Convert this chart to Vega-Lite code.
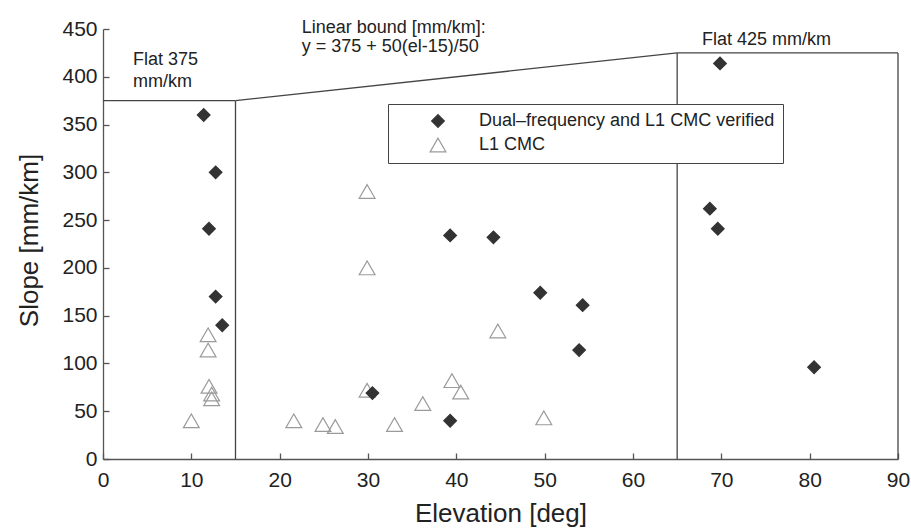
{
  "$schema": "https://vega.github.io/schema/vega-lite/v6.json",
  "width": 795,
  "height": 430,
  "autosize": {"type": "none"},
  "padding": {"left": 103, "top": 29, "right": 13, "bottom": 69},
  "background": "white",
  "config": {
    "view": {"stroke": null},
    "font": "Liberation Sans",
    "axis": {
      "grid": false,
      "domainColor": "#555",
      "domainWidth": 1.3,
      "tickColor": "#555",
      "tickWidth": 1.3,
      "tickSize": -6,
      "labelFontSize": 21,
      "labelColor": "#222",
      "labelFlush": false,
      "titleFontSize": 26,
      "titleFontWeight": "normal",
      "titleColor": "#222"
    }
  },
  "datasets": {
    "points": [
      {"el": 10.0, "slope": 40, "type": "L1 CMC"},
      {"el": 11.9, "slope": 130, "type": "L1 CMC"},
      {"el": 11.9, "slope": 114, "type": "L1 CMC"},
      {"el": 12.0, "slope": 76, "type": "L1 CMC"},
      {"el": 12.3, "slope": 68, "type": "L1 CMC"},
      {"el": 12.3, "slope": 63, "type": "L1 CMC"},
      {"el": 21.6, "slope": 40, "type": "L1 CMC"},
      {"el": 24.9, "slope": 36, "type": "L1 CMC"},
      {"el": 26.3, "slope": 34, "type": "L1 CMC"},
      {"el": 29.9, "slope": 280, "type": "L1 CMC"},
      {"el": 29.9, "slope": 200, "type": "L1 CMC"},
      {"el": 29.9, "slope": 72, "type": "L1 CMC"},
      {"el": 33.0, "slope": 36, "type": "L1 CMC"},
      {"el": 36.2, "slope": 58, "type": "L1 CMC"},
      {"el": 39.5, "slope": 82, "type": "L1 CMC"},
      {"el": 40.5, "slope": 70, "type": "L1 CMC"},
      {"el": 44.7, "slope": 134, "type": "L1 CMC"},
      {"el": 49.9, "slope": 43, "type": "L1 CMC"},
      {"el": 11.4, "slope": 360, "type": "Dual–frequency and L1 CMC verified"},
      {"el": 12.75, "slope": 300, "type": "Dual–frequency and L1 CMC verified"},
      {"el": 12.0, "slope": 241, "type": "Dual–frequency and L1 CMC verified"},
      {"el": 12.75, "slope": 170, "type": "Dual–frequency and L1 CMC verified"},
      {"el": 13.5, "slope": 140, "type": "Dual–frequency and L1 CMC verified"},
      {"el": 30.5, "slope": 69, "type": "Dual–frequency and L1 CMC verified"},
      {"el": 39.3, "slope": 40, "type": "Dual–frequency and L1 CMC verified"},
      {"el": 39.3, "slope": 234, "type": "Dual–frequency and L1 CMC verified"},
      {"el": 44.2, "slope": 232, "type": "Dual–frequency and L1 CMC verified"},
      {"el": 49.5, "slope": 174, "type": "Dual–frequency and L1 CMC verified"},
      {"el": 54.3, "slope": 161, "type": "Dual–frequency and L1 CMC verified"},
      {"el": 53.9, "slope": 114, "type": "Dual–frequency and L1 CMC verified"},
      {"el": 69.85, "slope": 414, "type": "Dual–frequency and L1 CMC verified"},
      {"el": 68.7, "slope": 262, "type": "Dual–frequency and L1 CMC verified"},
      {"el": 69.6, "slope": 241, "type": "Dual–frequency and L1 CMC verified"},
      {"el": 80.5, "slope": 96, "type": "Dual–frequency and L1 CMC verified"}
    ],
    "bounds": [
      {"el": 0, "slope": 375, "el2": 15, "slope2": 375},
      {"el": 15, "slope": 375, "el2": 15, "slope2": 0},
      {"el": 15, "slope": 375, "el2": 65, "slope2": 425},
      {"el": 65, "slope": 425, "el2": 90, "slope2": 425},
      {"el": 65, "slope": 425, "el2": 65, "slope2": 0},
      {"el": 90, "slope": 425, "el2": 90, "slope2": 0}
    ],
    "notes": [
      {"el": 3.4, "slope": 412.6, "label": "Flat 375"},
      {"el": 3.4, "slope": 389.6, "label": "mm/km"},
      {"el": 22.5, "slope": 445.5, "label": "Linear bound [mm/km]:"},
      {"el": 22.5, "slope": 426.2, "label": "y = 375 + 50(el-15)/50"},
      {"el": 67.8, "slope": 433.6, "label": "Flat 425 mm/km"}
    ]
  },
  "encoding": {
    "x": {
      "field": "el",
      "type": "quantitative",
      "title": "Elevation [deg]",
      "scale": {"domain": [0, 90], "nice": false, "zero": false},
      "axis": {
        "values": [0, 10, 20, 30, 40, 50, 60, 70, 80, 90],
        "labelPadding": 16,
        "titleY": 62,
        "titleBaseline": "alphabetic"
      }
    },
    "y": {
      "field": "slope",
      "type": "quantitative",
      "title": "Slope [mm/km]",
      "scale": {"domain": [0, 450], "nice": false, "zero": false},
      "axis": {
        "values": [0, 50, 100, 150, 200, 250, 300, 350, 400, 450],
        "labelPadding": 12,
        "titleX": -74,
        "titleY": 211,
        "titleAngle": 270,
        "titleAlign": "center",
        "titleBaseline": "middle"
      }
    }
  },
  "layer": [
    {
      "data": {"name": "bounds"},
      "mark": {"type": "rule", "color": "#444", "strokeWidth": 1.3},
      "encoding": {
        "x2": {"field": "el2"},
        "y2": {"field": "slope2"}
      }
    },
    {
      "data": {"name": "points"},
      "mark": {"type": "point", "opacity": 1, "strokeWidth": 1.2},
      "encoding": {
        "shape": {
          "field": "type",
          "type": "nominal",
          "scale": {"domain": ["Dual–frequency and L1 CMC verified", "L1 CMC"], "range": ["diamond", "triangle-up"]},
          "legend": {
            "orient": "none",
            "legendX": 285,
            "legendY": 75,
            "title": null,
            "strokeColor": "#444",
            "fillColor": "white",
            "padding": 8,
            "symbolOffset": 33,
            "labelOffset": 32,
            "labelFontSize": 18,
            "labelLimit": 500,
            "labelColor": "#222",
            "rowPadding": 5,
            "symbolStrokeWidth": 1.2
          }
        },
        "fill": {
          "field": "type",
          "type": "nominal",
          "scale": {"domain": ["Dual–frequency and L1 CMC verified", "L1 CMC"], "range": ["#333333", "transparent"]}
        },
        "stroke": {
          "field": "type",
          "type": "nominal",
          "scale": {"domain": ["Dual–frequency and L1 CMC verified", "L1 CMC"], "range": ["#333333", "#9a9a9a"]}
        },
        "size": {
          "field": "type",
          "type": "nominal",
          "scale": {"domain": ["Dual–frequency and L1 CMC verified", "L1 CMC"], "range": [160, 250]}
        }
      }
    },
    {
      "data": {"name": "notes"},
      "mark": {"type": "text", "align": "left", "baseline": "alphabetic", "fontSize": 18, "color": "#222"},
      "encoding": {
        "text": {"field": "label", "type": "nominal"}
      }
    }
  ]
}
